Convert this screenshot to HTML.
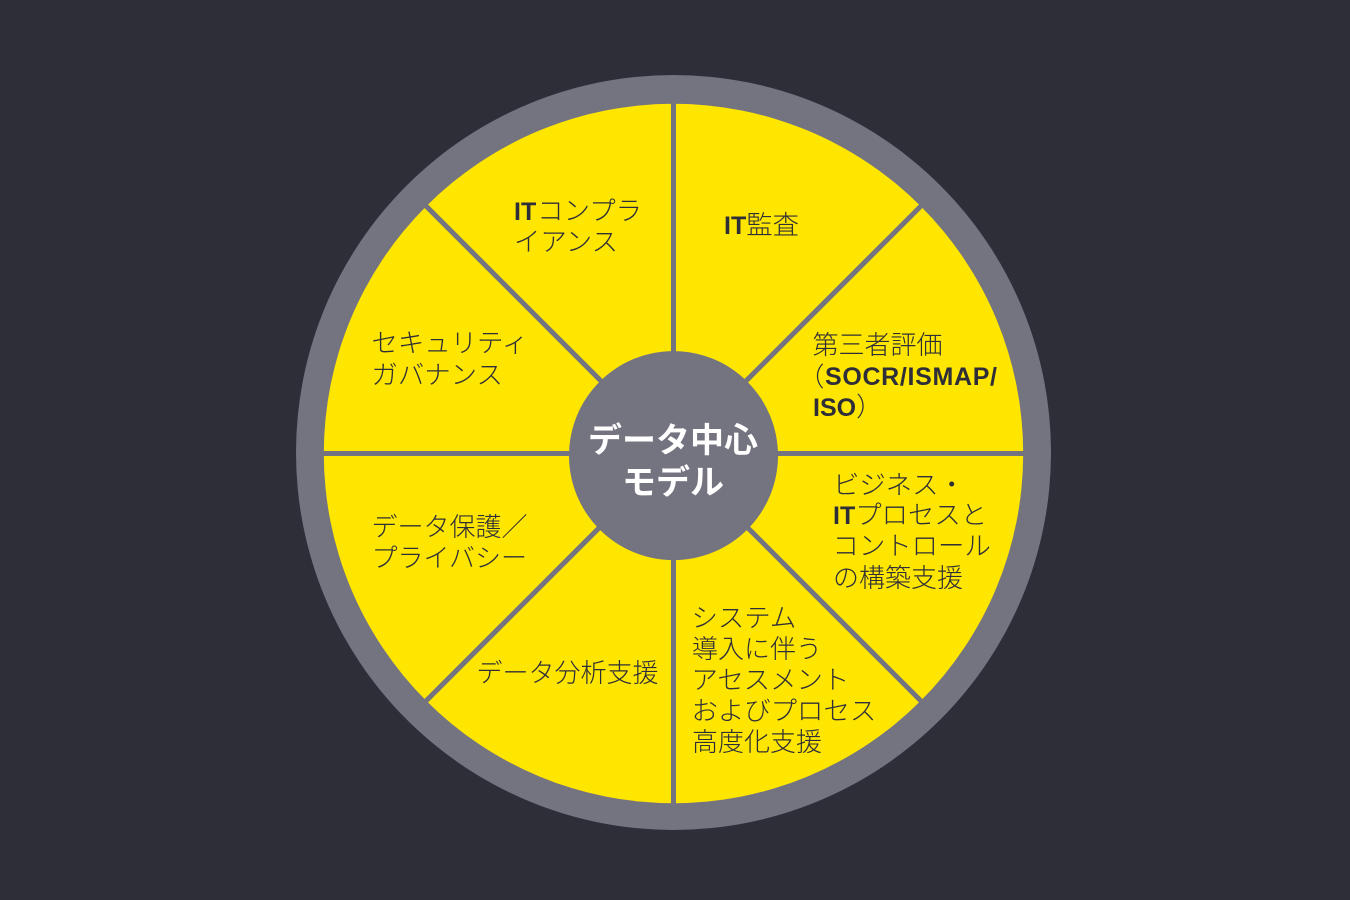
<!DOCTYPE html>
<html lang="ja">
<head>
<meta charset="utf-8">
<style>
html,body{margin:0;padding:0;background:#2e2e38;width:1350px;height:900px;overflow:hidden}
svg{display:block}
text{font-family:"Liberation Sans","Noto Sans CJK JP",sans-serif;font-size:26.4px;fill:#2e2e38;font-weight:300}
.k{font-size:26px}
.l{font-weight:700;font-size:25px}
.c{font-family:"Liberation Sans","Noto Sans CJK JP",sans-serif;font-size:34px;font-weight:700;fill:#fff;text-anchor:middle}
</style>
</head>
<body>
<svg width="1350" height="900" viewBox="0 0 1350 900" xmlns="http://www.w3.org/2000/svg">
<rect width="1350" height="900" fill="#2e2e38"/>
<circle cx="673.5" cy="452.5" r="377.5" fill="#747480"/>
<circle cx="673.5" cy="453.5" r="349.7" fill="#ffe600"/>
<g stroke="#747480" stroke-width="5">
<line x1="673.5" y1="100" x2="673.5" y2="806"/>
<line x1="320" y1="453.5" x2="1027" y2="453.5"/>
<line x1="424" y1="204" x2="923" y2="703"/>
<line x1="923" y1="204" x2="424" y2="703"/>
</g>
<circle cx="673.5" cy="455.6" r="104.5" fill="#747480"/>
<text class="c" x="673" y="452">データ中心</text>
<text class="c" x="673" y="494">モデル</text>

<text x="514" y="220"><tspan class="l">IT</tspan><tspan dx="1">コンプラ</tspan></text>
<text x="514" y="251">イアンス</text>

<text x="724" y="234"><tspan class="l">IT</tspan>監査</text>

<text class="k" x="812.5" y="354">第三者評価</text>
<text x="798" y="386">（</text>
<text class="l" x="825" y="385" textLength="172" lengthAdjust="spacing">SOCR/ISMAP/</text>
<text x="813" y="416"><tspan class="l">ISO</tspan>）</text>

<text x="833" y="494">ビジネス・</text>
<text x="833" y="524"><tspan class="l">IT</tspan>プロセスと</text>
<text x="832.5" y="555">コントロール</text>
<text class="k" x="833" y="587">の構築支援</text>

<text x="691.5" y="627">システム</text>
<text class="k" x="692" y="658">導入に伴う</text>
<text x="691.5" y="689">アセスメント</text>
<text x="691.5" y="720">およびプロセス</text>
<text class="k" x="692" y="751">高度化支援</text>

<text class="k" x="476.5" y="682">データ分析支援</text>

<text class="k" x="371.5" y="536">データ保護／</text>
<text class="k" x="371.5" y="567">プライバシー</text>

<text x="371.5" y="352">セキュリティ</text>
<text x="371.5" y="384">ガバナンス</text>
</svg>
</body>
</html>
